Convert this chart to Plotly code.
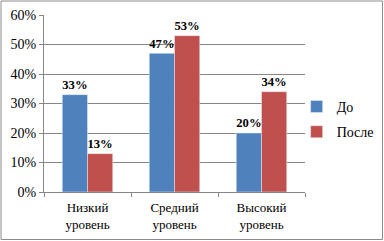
import plotly.graph_objects as go

categories = ["Низкий<br>уровень", "Средний<br>уровень", "Высокий<br>уровень"]
before = [33, 47, 20]
after = [13, 53, 34]
series_names = ["До", "После"]

L, R, T, B = 44, 79, 15, 49
W, H = 384, 241
pw, ph = W - L - R, H - T - B
FONT = "Liberation Serif"

fig = go.Figure()
fig.add_trace(go.Bar(x=categories, y=before, name=series_names[0], marker_color="#4F81BD",
                     legendgroup="a",
                     text=[f"{v}%" for v in before], textposition="outside", cliponaxis=False,
                     textfont=dict(family=FONT, size=14, color="black")))
fig.add_trace(go.Bar(x=categories, y=after, name=series_names[1], marker_color="#C0504D",
                     legendgroup="b",
                     text=[f"{v}%" for v in after], textposition="outside", cliponaxis=False,
                     textfont=dict(family=FONT, size=14, color="black")))

fig.update_layout(
    width=W, height=H,
    margin=dict(l=L, r=R, t=T, b=B, autoexpand=False),
    barmode="group", bargap=0.42, bargroupgap=0,
    plot_bgcolor="white", paper_bgcolor="white",
    font=dict(family=FONT, size=13, color="black"),
    legend=dict(x=0.968, y=0.41, xanchor="left", yanchor="middle",
                font=dict(family=FONT, size=14),
                itemwidth=30, tracegroupgap=4, bgcolor="rgba(0,0,0,0)"),
    shapes=[dict(type="rect", xref="paper", yref="paper",
                 x0=-(L - 1) / pw, x1=1 + (R - 1.5) / pw,
                 y0=-(B - 1.5) / ph, y1=1 + (T - 1) / ph,
                 line=dict(color="#8C8C8C", width=1))],
)
fig.update_traces(texttemplate="<b>%{text}</b>")
fig.update_yaxes(range=[0, 60], dtick=10, ticksuffix="%", showgrid=True, gridcolor="#868686",
                 gridwidth=1, showline=True, linecolor="#868686", ticks="outside", ticklen=4,
                 tickcolor="#868686", zeroline=False, tickfont=dict(family=FONT, size=14))
fig.update_xaxes(showline=True, linecolor="#868686", ticks="outside", tickson="boundaries",
                 ticklen=4, tickcolor="#868686", tickfont=dict(family=FONT, size=13),
                 ticklabelstandoff=3)

fig.write_html("out.html", config={"displayModeBar": False},
               post_script="document.body.style.margin='0';document.body.style.padding='0';")
